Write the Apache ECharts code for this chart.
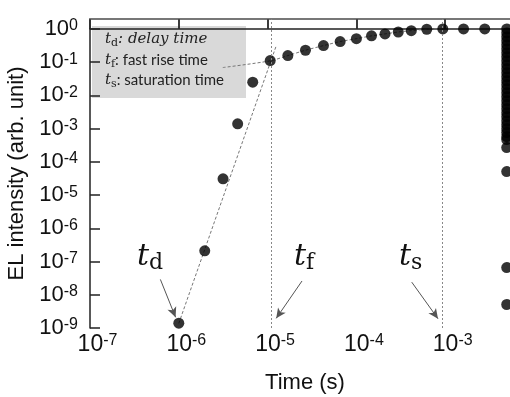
<!DOCTYPE html>
<html>
<head>
<meta charset="utf-8">
<script src="https://cdn.jsdelivr.net/npm/echarts@6/dist/echarts.min.js"></script>
<style>
  html, body { margin: 0; padding: 0; background: #fff; }
  #chart { width: 510px; height: 397px; }
</style>
</head>
<body>
<div id="chart"></div>
<script>
// rise: time (s) and EL intensity (arb. unit)
const riseTime = [1.0e-6, 1.96e-6, 3.15e-6, 4.6e-6, 6.8e-6, 1.07e-5, 1.69e-5, 2.67e-5, 4.26e-5, 6.56e-5,
  1.0e-4, 1.48e-4, 2.1e-4, 2.96e-4, 4.15e-4, 6.2e-4, 9.4e-4, 1.61e-3, 2.79e-3];
const riseEL = [1.4e-9, 2.1e-7, 3.1e-5, 1.4e-3, 2.5e-2, 0.112, 0.158, 0.229, 0.316, 0.417,
  0.51, 0.62, 0.71, 0.81, 0.89, 0.98, 1.0, 1.0, 1.0];

// decay after the pulse, all at nearly the same time
const decayTime = 4.93e-3;
const decayEL = [1.0, 0.76, 0.575, 0.437, 0.331, 0.251, 0.19, 0.145, 0.11, 0.083, 0.063, 0.048,
  0.036, 0.0275, 0.021, 0.0158, 0.012, 0.0091, 0.0069, 0.0052, 0.004, 0.003, 0.0023, 0.0017,
  0.0013, 0.001, 7.6e-4, 5.75e-4, 4.7e-4, 2.7e-4, 5.1e-5, 6.6e-8, 5.1e-9];

// guide lines
const steepFitTime = [1.0e-6, 1.25e-5];
const steepFitEL = [1.38e-9, 0.31];
const slowFitTime = [3.13e-6, 1.07e-5, 1.69e-5, 2.67e-5, 4.26e-5, 6.56e-5, 1.0e-4, 1.48e-4, 2.1e-4, 2.96e-4, 4.15e-4, 6.2e-4, 9.4e-4];
const slowFitEL = [0.069, 0.11, 0.158, 0.229, 0.316, 0.417, 0.51, 0.62, 0.71, 0.81, 0.89, 0.98, 1.02];

const tfTime = 1.1e-5;
const tsTime = 9.35e-4;

const lg = Math.log10;
const pts = (xs, ys) => ys.map((y, i) => [lg(Array.isArray(xs) ? xs[i] : xs), lg(y)]);

const powLabel = (v) => (Number.isInteger(v) ? '10{s|' + v + '}' : '');
const powRich = {
  s: { fontSize: 16, verticalAlign: 'top', lineHeight: 16, color: '#111', fontFamily: 'Liberation Sans' },
};

const arrow = (x0, y0, x1, y1) => [
  { coord: [lg(x0), lg(y0)] },
  { coord: [lg(x1), lg(y1)] },
];

const mathRich = (size, subSize, fill) => ({
  mi: { fontFamily: 'DejaVu Serif', fontStyle: 'italic', fontSize: size, lineHeight: size + 4, fill },
  sb: { fontFamily: 'DejaVu Serif', fontSize: subSize, lineHeight: subSize + 3, verticalAlign: 'bottom', fill },
  tx: { fontFamily: 'Lato', fontSize: size, lineHeight: size + 4, fill },
});

const chart = echarts.init(document.getElementById('chart'));

chart.setOption({
  animation: false,
  backgroundColor: '#fff',
  grid: { left: 90, right: -24, top: 19, bottom: 69, containLabel: false, outerBoundsMode: 'none' },
  xAxis: [
    {
      type: 'value',
      min: -7,
      max: -2,
      interval: 1,
      name: 'Time (s)',
      nameLocation: 'middle',
      nameGap: 44,
      nameTextStyle: { fontSize: 22, color: '#111', fontFamily: 'Liberation Sans', padding: [0, 14, 0, 0] },
      axisLine: { lineStyle: { color: '#222', width: 1.5 } },
      axisTick: { inside: true, length: 9, lineStyle: { color: '#222', width: 1.5 } },
      axisLabel: {
        margin: 5,
        color: '#111',
        fontSize: 23,
        fontFamily: 'Liberation Sans',
        lineHeight: 24,
        padding: [0, 0, 0, 15],
        formatter: powLabel,
        rich: powRich,
      },
      splitLine: { show: false },
    },
    {
      type: 'value',
      position: 'top',
      min: -7,
      max: -2,
      interval: 1,
      axisLine: { lineStyle: { color: '#777', width: 2 } },
      axisTick: { inside: true, length: 9, lineStyle: { color: '#333', width: 1.5 } },
      axisLabel: { show: false },
      splitLine: { show: false },
    },
  ],
  yAxis: {
    type: 'value',
    min: -9,
    max: 0.3,
    interval: 1,
    name: 'EL intensity (arb. unit)',
    nameLocation: 'middle',
    nameGap: 56,
    nameTextStyle: { fontSize: 22, color: '#111', fontFamily: 'Liberation Sans' },
    axisLine: { lineStyle: { color: '#222', width: 1.5 } },
    axisTick: { inside: true, length: 10, lineStyle: { color: '#222', width: 1.5 } },
    axisLabel: {
      margin: 12,
      color: '#111',
      fontSize: 22,
      fontFamily: 'Liberation Sans',
      lineHeight: 22,
      showMaxLabel: false,
      formatter: powLabel,
      rich: powRich,
    },
    splitLine: { show: false },
  },
  graphic: {
    elements: [
      {
        type: 'rect',
        z: -1,
        shape: { x: 92, y: 26, width: 154, height: 72 },
        style: { fill: '#d9d9d9' },
      },
      {
        type: 'text',
        left: 105,
        top: 32,
        style: { text: '{mi|t}{sb|d}{mi|: delay time}', rich: mathRich(15, 11, '#222') },
      },
      {
        type: 'text',
        left: 105,
        top: 53,
        style: { text: '{mi|t}{sb|f}{tx|: fast rise time}', rich: mathRich(15, 11, '#222') },
      },
      {
        type: 'text',
        left: 105,
        top: 73,
        style: { text: '{mi|t}{sb|s}{tx|: saturation time}', rich: mathRich(15, 11, '#222') },
      },
      {
        type: 'text',
        left: 137,
        top: 242,
        style: { text: '{mi|t}{sb|d}', rich: mathRich(30, 22, '#111') },
      },
      {
        type: 'text',
        left: 294,
        top: 242,
        style: { text: '{mi|t}{sb|f}', rich: mathRich(30, 22, '#111') },
      },
      {
        type: 'text',
        left: 399,
        top: 242,
        style: { text: '{mi|t}{sb|s}', rich: mathRich(30, 22, '#111') },
      },
    ],
  },
  series: [
    {
      type: 'line',
      data: pts(steepFitTime, steepFitEL),
      symbol: 'none',
      lineStyle: { color: '#777', width: 1, type: [3, 2] },
      z: 1,
      silent: true,
    },
    {
      type: 'line',
      data: pts(slowFitTime, slowFitEL),
      symbol: 'none',
      smooth: 0.3,
      lineStyle: { color: '#777', width: 1, type: [3, 2] },
      z: 1,
      silent: true,
    },
    {
      type: 'line',
      data: [],
      symbol: 'none',
      silent: true,
      markLine: {
        silent: true,
        symbol: ['none', 'arrow'],
        symbolSize: [7, 10],
        label: { show: false },
        lineStyle: { color: '#555', width: 1, type: 'solid' },
        data: [
          arrow(6.2e-7, 2.9e-8, 9.2e-7, 2.1e-9),
          arrow(2.44e-5, 2.6e-8, 1.25e-5, 1.95e-9),
          arrow(4.2e-4, 2.4e-8, 8.3e-4, 1.9e-9),
        ],
      },
    },
    {
      type: 'line',
      data: [],
      symbol: 'none',
      silent: true,
      markLine: {
        silent: true,
        symbol: 'none',
        label: { show: false },
        lineStyle: { color: '#888', width: 1, type: [2, 2] },
        data: [{ xAxis: lg(tfTime) }, { xAxis: lg(tsTime) }],
      },
    },
    {
      type: 'scatter',
      data: pts(riseTime, riseEL),
      symbol: 'circle',
      symbolSize: 11,
      itemStyle: { color: '#000' },
      z: 3,
    },
    {
      type: 'scatter',
      data: pts(decayTime, decayEL),
      symbol: 'circle',
      symbolSize: 11,
      itemStyle: { color: '#000' },
      z: 3,
    },
  ],
});
</script>
</body>
</html>
